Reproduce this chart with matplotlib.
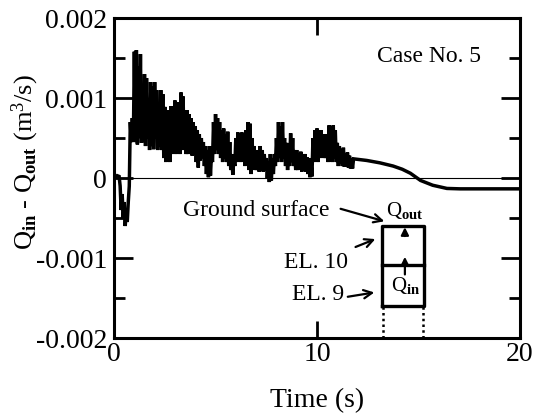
import numpy as np
import matplotlib.pyplot as plt
from matplotlib.ticker import MultipleLocator

plt.rcParams['font.family'] = ['Liberation Serif', 'DejaVu Serif']
plt.rcParams['mathtext.fontset'] = 'custom'
plt.rcParams['mathtext.rm'] = 'Liberation Serif'
plt.rcParams['mathtext.it'] = 'Liberation Serif:italic'
plt.rcParams['mathtext.bf'] = 'Liberation Serif:bold'

# --- data (flow in units of 1e-4 m^3/s) ---
t_start = [0.0, 0.15, 0.25, 0.3, 0.35, 0.4, 0.45, 0.5, 0.55, 0.6, 0.65, 0.7, 0.75]
q_start = [0, 0.3, 0.2, -1, -4, -2, -5, -3, -6, -4, -5.5, -3, -1]

# noisy part, sampled every 0.05 s from 0.8 s
q_noisy = [
    7, 4.5, 7.5, 4.5,
    15.8, 4.5, 16, 4.2, 14, 5, 15.5, 4.4, 11, 4.5, 13, 4, 12.5, 5, 9, 3.5,
    12, 4, 11.5, 3.6, 12, 5, 11, 3.5, 8, 4, 11, 3.5, 10.5, 2.5, 8.9, 2, 8.5, 3, 6, 2,
    9, 3, 8.5, 3.5, 9.7, 3, 9.5, 4, 7, 3, 10.7, 3.5, 10.2, 4, 6, 3, 8.5, 3, 8, 3.2,
    7.5, 2.8, 7, 3, 6.5, 2, 6, 1.3, 5.5, 2.2, 5, 2.5, 4.5, 1.5, 4, 0.5, 3.5, 0.1, 4, 0.3,
    3, 2, 7, 3, 8, 3.5, 7.5, 3, 7, 2.5, 6, 2, 6.2, 2.5, 5.5, 2, 5.8, 1.5, 4.5, 1,
    3, 0.4, 2.5, 1.5, 5, 2, 5.7, 2.5, 5.5, 2, 5.7, 2.2, 5, 1.5, 6, 2, 7, 1, 6.8, 0.5,
    5, 1.5, 4, 1, 3.5, 1, 3.2, 0.8, 4, 1, 3.5, 0.8, 3, 1, 2.5, 0, 2, -0.5, 3, -0.3,
    2.5, 0.5, 3, 1.5, 5, 2, 7, 2.5, 6.5, 2, 7, 2.5, 5, 1.5, 4.4, 1, 4, 1.5, 5.6, 2,
    5, 1.5, 3.5, 1, 3.5, 1, 3, 1.2, 3.3, 0.8, 2.8, 1, 3, 0.8, 2.6, 0.5, 2.5, 0.1, 2, 0.2,
    5, 2, 6, 2.5, 6.2, 2, 5.7, 2.5, 6, 3, 5, 2.5, 5.5, 2.5, 5, 2, 6.6, 2.5, 6.5, 2,
    6.6, 2.5, 6, 2, 4.4, 1.5, 4, 1.8, 3.5, 1.5, 3.8, 1.4, 3, 1.5, 3.2, 1.3, 2.8, 1.2,
    2.5, 1.2,
]
t_noisy = 0.8 + 0.05 * np.arange(len(q_noisy))

t_smooth = [11.8, 12.45, 13.1, 13.75, 14.2, 14.6, 15.1, 15.7, 16.4, 17.05, 20.0]
q_smooth = [2.4, 2.2, 1.9, 1.5, 1.1, 0.6, -0.3, -0.9, -1.3, -1.35, -1.35]

t_all = np.concatenate([t_start, t_noisy, t_smooth])
q_all = np.concatenate([q_start, q_noisy, q_smooth]) * 1e-4

y_ticks = [-0.002, -0.001, 0, 0.001, 0.002]
y_labels = ['-0.002', '-0.001', '0', '0.001', '0.002']
x_ticks = [0, 10, 20]

# inset sketch of the two elements
box_x = [13.2, 15.25]
box_y = [-0.0016, -0.00109, -0.0006]
dot_x = [13.25, 15.2]

fig = plt.figure(figsize=(5.38, 4.16), dpi=100)
ax = fig.add_axes([0.212, 0.1875, 0.7545, 0.769])

ax.axhline(0, color='black', lw=0.8)
ax.plot(t_all, q_all, color='black', lw=2.5, solid_joinstyle='miter')

ax.set_xlim(0, 20)
ax.set_ylim(-0.002, 0.002)
ax.set_xticks(x_ticks)
ax.set_xticklabels([str(v) for v in x_ticks])
ax.set_yticks(y_ticks)
ax.set_yticklabels(y_labels)
ax.yaxis.set_minor_locator(MultipleLocator(0.0005))

ax.tick_params(axis='both', which='both', direction='in', top=True, right=True,
               labelsize=20, width=2)
ax.tick_params(axis='y', which='major', length=14, pad=5)
ax.tick_params(axis='y', which='minor', length=8)
ax.tick_params(axis='x', which='major', length=12, pad=3)
for s in ax.spines.values():
    s.set_linewidth(2.2)

ax.set_xlabel('Time (s)', fontsize=20, labelpad=15)
ax.set_ylabel(r'Q$_{\bf in}$ - Q$_{\bf out}$ (m$^3$/s)', fontsize=19)
ax.yaxis.set_label_coords(-0.18, 0.55)

ax.text(15.5, 0.00152, 'Case No. 5', fontsize=17, ha='center', va='center')

# boxes
ax.plot([box_x[0], box_x[1], box_x[1], box_x[0], box_x[0]],
        [box_y[0], box_y[0], box_y[2], box_y[2], box_y[0]], color='black', lw=2.4)
ax.plot(box_x, [box_y[1], box_y[1]], color='black', lw=2.4)
for dx in dot_x:
    ax.plot([dx, dx], [-0.002, box_y[0]], color='black', lw=1.8, ls=(0, (1.0, 1.3)))

ax.text(7.0, -0.0004, 'Ground surface', fontsize=17, ha='center', va='center')
ax.text(9.95, -0.00105, 'EL. 10', fontsize=17, ha='center', va='center')
ax.text(10.05, -0.00146, 'EL. 9', fontsize=17, ha='center', va='center')
ax.text(14.33, -0.0004, r'Q$_{\bf out}$', fontsize=15, ha='center', va='center')
ax.text(14.38, -0.00134, r'Q$_{\bf in}$', fontsize=15, ha='center', va='center')

arw = dict(arrowstyle='->', color='black', lw=1.6, mutation_scale=15)
ax.annotate('', xy=(13.45, -0.00055), xytext=(11.03, -0.000375), arrowprops=arw)
ax.annotate('', xy=(13.0, -0.00075), xytext=(11.77, -0.000875), arrowprops=arw)
ax.annotate('', xy=(12.96, -0.001425), xytext=(11.38, -0.00149), arrowprops=arw)
up = dict(arrowstyle='-|>', color='black', lw=1.6, mutation_scale=11)
ax.annotate('', xy=(14.33, -0.00058), xytext=(14.33, -0.00076), arrowprops=up)
ax.annotate('', xy=(14.33, -0.00095), xytext=(14.33, -0.00124), arrowprops=up)

fig.savefig('out.png', dpi=100)
